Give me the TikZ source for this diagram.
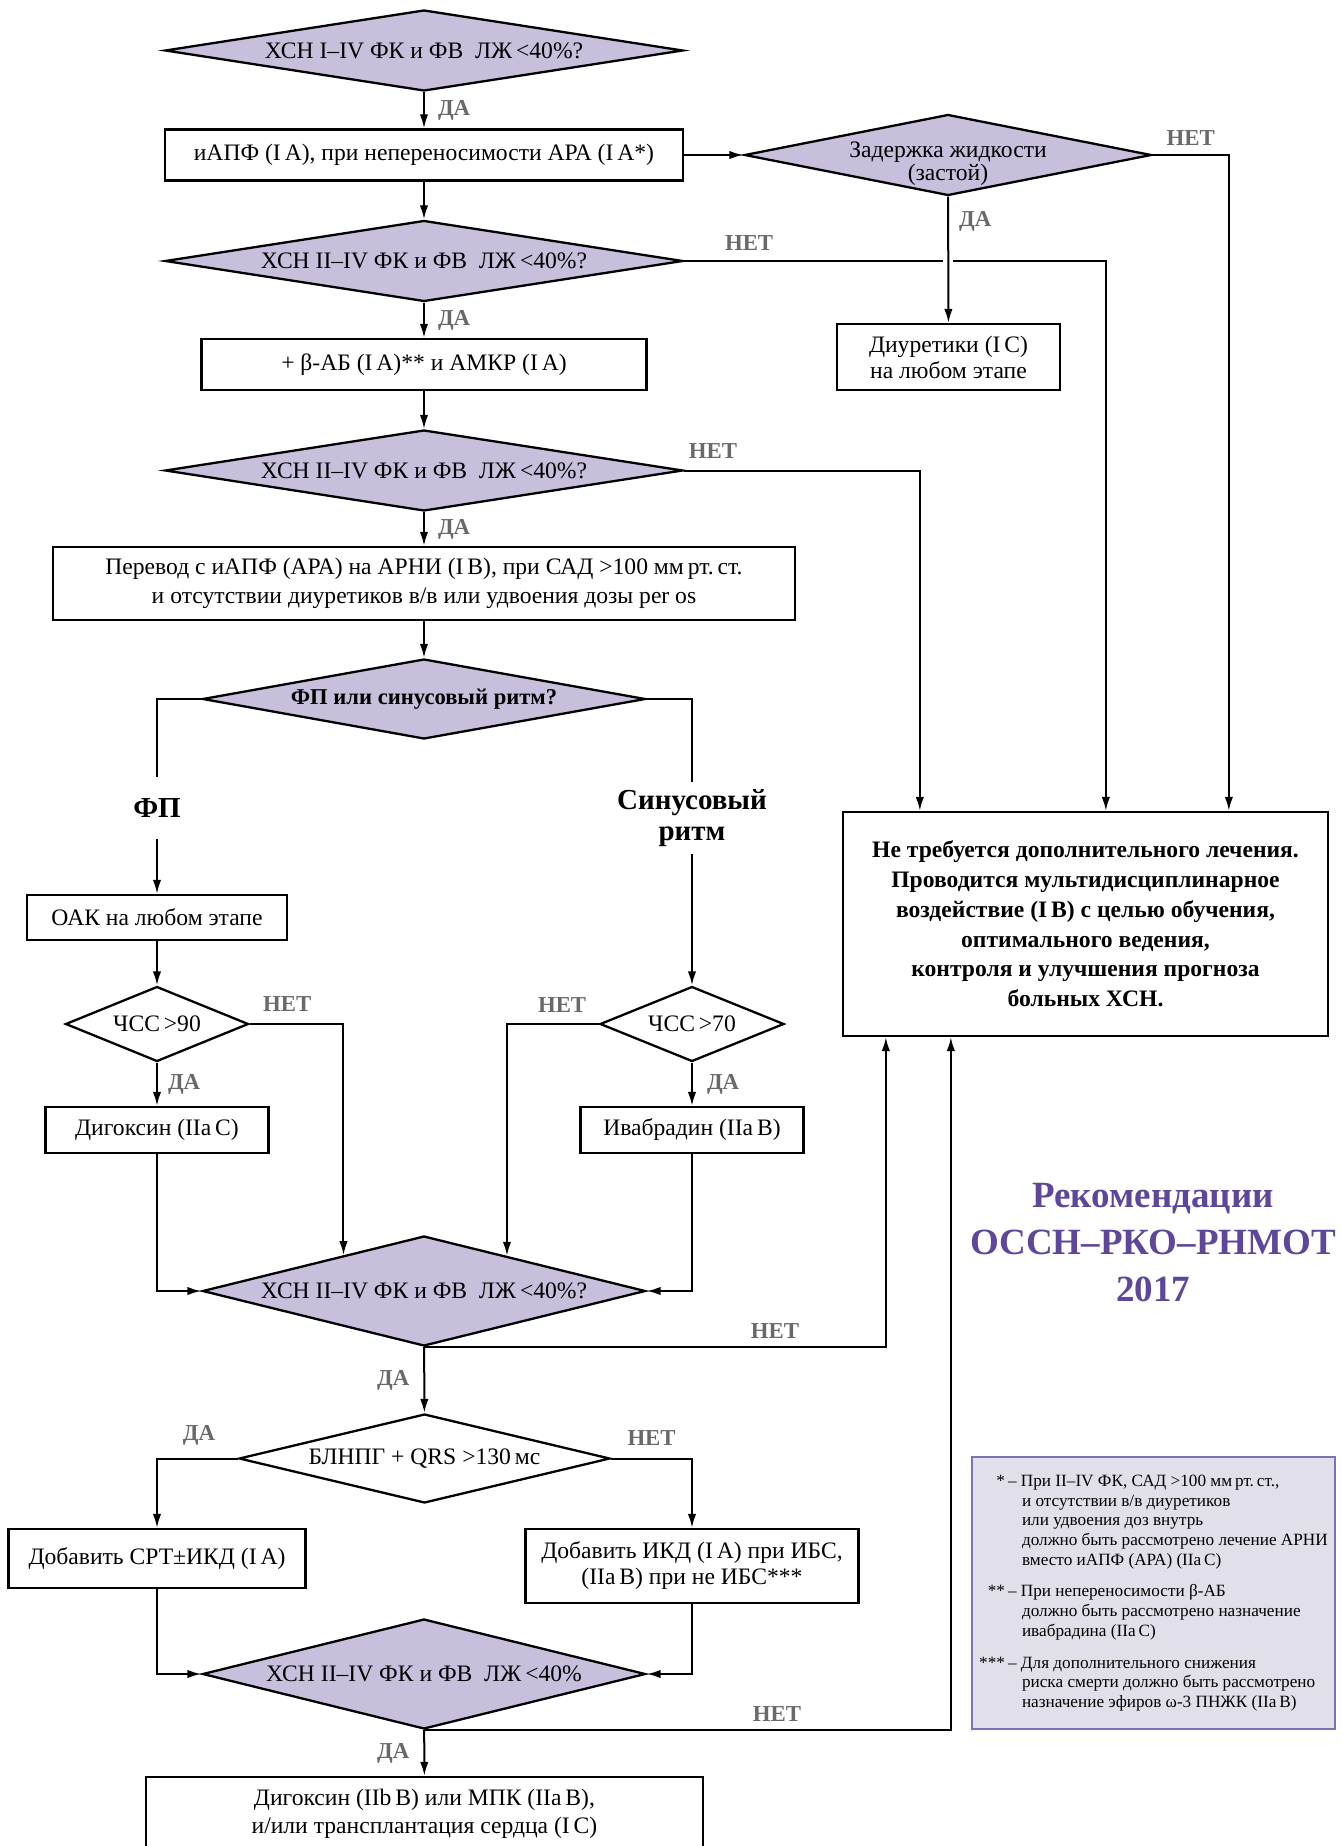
\documentclass[tikz,border=0pt]{standalone}
\usepackage{fontspec}
\setmainfont{Liberation Serif}
\usepackage{xcolor}
\usepackage{tikz}
\usetikzlibrary{shapes.geometric,arrows.meta,positioning,calc}
\definecolor{decide}{RGB}{200,191,220}
\definecolor{brand}{RGB}{94,70,155}
\definecolor{notefill}{RGB}{225,224,234}
\definecolor{noteline}{RGB}{128,112,182}
\definecolor{replygray}{RGB}{105,105,105}

\begin{document}
\begin{tikzpicture}[
    x=0.5pt, y=-0.5pt,
    base/.style={font=\fontsize{11.8}{13.5}\selectfont},
    action/.style={draw, line width=1.15pt, fill=white, base, align=center, inner sep=2pt},
    decision/.style={diamond, draw, line width=1.15pt, fill=decide, inner sep=0pt},
    qtext/.style={base, align=center, inner sep=0pt, text=black},
    arrow/.style={-{Latex[length=7pt,width=4.2pt]}, line width=1pt},
    link/.style={line width=1pt},
    answer/.style={font=\fontsize{11.4}{13}\selectfont\bfseries, text=replygray, inner sep=1pt},
    branch/.style={font=\fontsize{14.5}{15.5}\selectfont\bfseries, align=center, inner sep=0pt}
]
    \useasboundingbox (0,0) rectangle (1341,1846);

    % Main column
    \node[decision, minimum width=259pt, minimum height=40.5pt,
        label={[qtext]center:ХСН I–IV ФК и ФВ~~ЛЖ\,<40\%?}] (d1) at (424,50.5) {};
    \node[action, minimum width=259pt, minimum height=25.5pt] (b1) at (424,155) {иАПФ (I\,A), при непереносимости АРА (I\,A*)};
    \node[decision, minimum width=259pt, minimum height=40.5pt,
        label={[qtext]center:ХСН II–IV ФК и ФВ~~ЛЖ\,<40\%?}] (d3) at (424,261) {};
    \node[action, minimum width=222.5pt, minimum height=25.5pt] (b3) at (424,364.5) {+ β-АБ (I\,A)** и АМКР (I\,A)};
    \node[decision, minimum width=259pt, minimum height=40.5pt,
        label={[qtext]center:ХСН II–IV ФК и ФВ~~ЛЖ\,<40\%?}] (d4) at (424,470.5) {};
    \node[action, minimum width=371pt, minimum height=36.5pt, font=\fontsize{11.8}{14.5}\selectfont] (b4) at (424,583.5)
        {Перевод с иАПФ (АРА) на АРНИ (I\,B), при САД >100 мм\,рт.\,ст.\\и отсутствии диуретиков в/в или удвоения дозы per os};
    \node[decision, minimum width=221.5pt, minimum height=40pt,
        label={[qtext, font=\fontsize{11.3}{13}\selectfont\bfseries]center:ФП или синусовый ритм?}] (d5) at (424,699) {};

    % Side branch
    \node[decision, minimum width=203.5pt, minimum height=40.5pt,
        label={[qtext, font=\fontsize{11.8}{11.5}\selectfont, yshift=-4.5pt]center:Задержка жидкости\\(застой)}] (d2) at (948,155) {};
    \node[action, minimum width=111.5pt, minimum height=33pt, font=\fontsize{11.8}{13}\selectfont] (b2) at (948.5,357) {Диуретики (I\,C)\\на любом этапе};
    \node[action, minimum width=242.5pt, minimum height=112pt, font=\fontsize{11.8}{14.9}\selectfont\bfseries] (bend) at (1085.5,924)
        {Не требуется дополнительного лечения.\\Проводится мультидисциплинарное\\воздействие (I\,B) с целью обучения,\\оптимального ведения,\\контроля и улучшения прогноза\\больных ХСН.};

    % Rhythm branches
    \node[branch, minimum height=31pt] (fp) at (157,808) {ФП};
    \node[branch, minimum height=36pt] (sr) at (692,818) {Синусовый\\ритм};
    \node[action, minimum width=130pt, minimum height=22.5pt] (b5) at (157,917.5) {ОАК на любом этапе};
    \node[decision, fill=white, minimum width=91.5pt, minimum height=37.5pt,
        label={[qtext]center:ЧСС\,>90}] (d6) at (157,1024) {};
    \node[decision, fill=white, minimum width=92pt, minimum height=37.5pt,
        label={[qtext]center:ЧСС\,>70}] (d7) at (692,1024) {};
    \node[action, minimum width=111.5pt, minimum height=23pt] (b6) at (157,1130) {Дигоксин (IIa\,C)};
    \node[action, minimum width=111.5pt, minimum height=23pt] (b7) at (692,1130) {Ивабрадин (IIa\,B)};
    \node[decision, minimum width=221.5pt, minimum height=55pt,
        label={[qtext]center:ХСН II–IV ФК и ФВ~~ЛЖ\,<40\%?}] (d8) at (424,1291) {};

    % Device therapy
    \node[decision, fill=white, minimum width=185.5pt, minimum height=44.5pt,
        label={[qtext]center:БЛНПГ + QRS >130\,мс}] (d9) at (424.5,1458.5) {};
    \node[action, minimum width=148.5pt, minimum height=29.5pt] (b8) at (157,1558.5) {Добавить СРТ±ИКД (I\,A)};
    \node[action, minimum width=166.5pt, minimum height=37pt, font=\fontsize{11.8}{13}\selectfont] (b9) at (692,1566) {Добавить ИКД (I\,A) при ИБС,\\(IIa\,B) при не ИБС***};
    \node[decision, minimum width=221.5pt, minimum height=55pt,
        label={[qtext]center:ХСН II–IV ФК и ФВ~~ЛЖ\,<40\%}] (d10) at (424,1674) {};
    \node[action, minimum width=278.5pt, minimum height=37pt, font=\fontsize{11.8}{14}\selectfont] (b10) at (424.5,1814) {Дигоксин (IIb\,B) или МПК (IIa\,B),\\и/или трансплантация сердца (I\,C)};

    % Legend
    \node[font=\fontsize{18.5}{23.5}\selectfont\bfseries, text=brand, align=center] (brandtitle) at (1153,1243) {Рекомендации\\ОССН–РКО–РНМОТ\\2017};
    \node[draw=noteline, fill=notefill, line width=1pt, minimum width=181.5pt, minimum height=136pt,
        font=\fontsize{8.6}{9.85}\selectfont, inner sep=0pt] (notes) at (1153.5,1593) {%
        \begin{tabular}{@{}r@{\hspace{1.5pt}}l@{}}
            * & – При II–IV ФК, САД >100 мм\,рт.\,ст.,\\
              & \hspace*{7pt}и отсутствии в/в диуретиков\\
              & \hspace*{7pt}или удвоения доз внутрь\\
              & \hspace*{7pt}должно быть рассмотрено лечение АРНИ\\
              & \hspace*{7pt}вместо иАПФ (АРА) (IIa\,C)\\[6pt]
            ** & – При непереносимости β-АБ\\
               & \hspace*{7pt}должно быть рассмотрено назначение\\
               & \hspace*{7pt}ивабрадина (IIa\,C)\\[6pt]
            *** & – Для дополнительного снижения\\
                & \hspace*{7pt}риска смерти должно быть рассмотрено\\
                & \hspace*{7pt}назначение эфиров ω-3 ПНЖК (IIa\,B)
        \end{tabular}};

    % Connections
    \draw[arrow] (d1) -- node[answer, right=5.5pt] {ДА} (b1);
    \draw[arrow] (b1.east) -- (d2.west);
    \draw[arrow] (b1) -- (d3);
    \draw[arrow] (d3) -- node[answer, right=5.5pt] {ДА} (b3);
    \draw[arrow] (b3) -- (d4);
    \draw[arrow] (d4) -- node[answer, right=5.5pt] {ДА} (b4);
    \draw[arrow] (b4) -- (d5);

    \draw[arrow] (d2.east) -| node[answer, pos=0.25, above=3pt] {НЕТ} ($(bend.north west)+(387,0)$);
    \draw[arrow] (d3.east) -| node[answer, pos=0.077, above=4pt] {НЕТ} ($(bend.north west)+(264,0)$);
    \draw[arrow] (d4.east) -| node[answer, pos=0.061, above=4.5pt] {НЕТ} ($(bend.north west)+(78,0)$);
    \coordinate (cross) at (d2.south |- d3.east);
    \fill[white] ($(cross)+(-5,-5)$) rectangle ($(cross)+(5,5)$);
    \draw[arrow] (d2) -- node[answer, pos=0.2, right=4pt] {ДА} (b2);

    \draw[link] (d5.west) -| (fp.north);
    \draw[arrow] (fp.south) -- (b5.north);
    \draw[link] (d5.east) -| (sr.north);
    \draw[arrow] (sr.south) -- (d7.north);
    \draw[arrow] (b5) -- (d6);
    \draw[arrow] (d6) -- node[answer, right=4pt] {ДА} (b6);
    \draw[arrow] (d7) -- node[answer, right=6pt] {ДА} (b7);
    \draw[arrow] (d6.east) -| node[answer, pos=0.2, above=5pt] {НЕТ} (d8.156);
    \draw[arrow] (d7.west) -| node[answer, pos=0.2, above=4.5pt] {НЕТ} (d8.23);
    \draw[arrow] (b6.south) |- (d8.west);
    \draw[arrow] (b7.south) |- (d8.east);

    \draw[arrow] (d8.south) -| node[answer, pos=0.38, above=3pt] {НЕТ} ($(bend.south west)+(44,0)$);
    \draw[arrow] (d8) -- node[answer, left=6pt] {ДА} (d9);
    \draw[arrow] (d9.west) -| node[answer, pos=0.24, above=5pt] {ДА} (b8.north);
    \draw[arrow] (d9.east) -| node[answer, pos=0.25, above=5pt] {НЕТ} (b9.north);
    \draw[arrow] (b8.south) |- (d10.west);
    \draw[arrow] (b9.south) |- (d10.east);
    \draw[arrow] (d10.south) -| node[answer, pos=0.335, above=3pt] {НЕТ} ($(bend.south west)+(109,0)$);
    \draw[arrow] (d10) -- node[answer, left=6pt] {ДА} (b10);
\end{tikzpicture}
\end{document}
